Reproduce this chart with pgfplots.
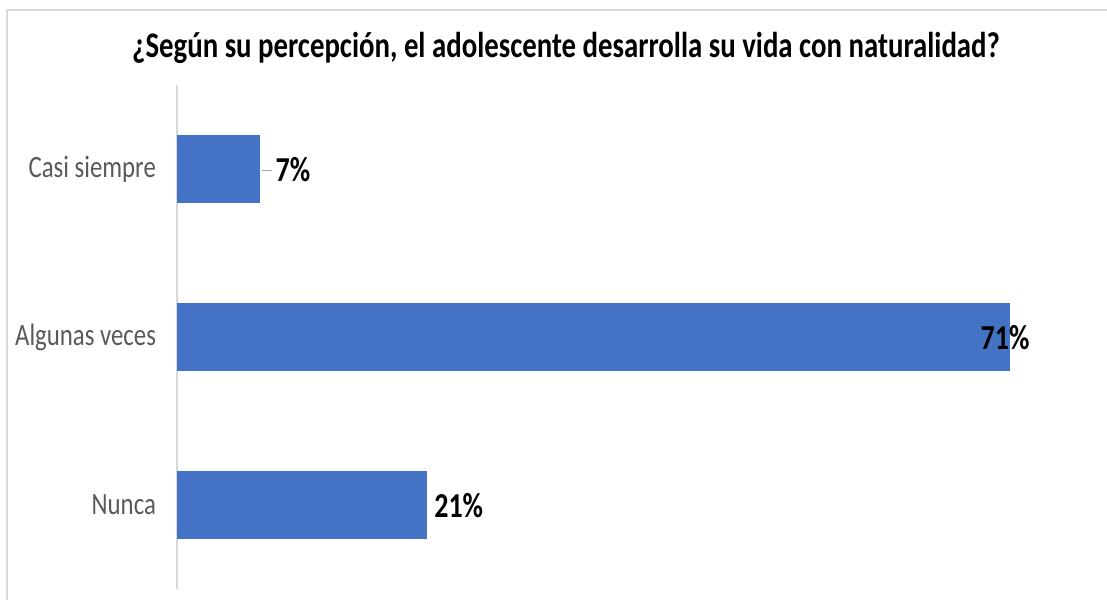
\documentclass[border=0pt]{standalone}
\usepackage{fontspec}
\setmainfont[FakeStretch=0.8]{Carlito}
\usepackage{pgfplots}
\pgfplotsset{compat=1.18}
\definecolor{barblue}{HTML}{4472C4}
\definecolor{lbl}{HTML}{595959}
\definecolor{gridg}{HTML}{D9D9D9}
\definecolor{leader}{HTML}{A6A6A6}

\begin{document}
\begin{tikzpicture}
\begin{axis}[
  name=ax, anchor=south west, at={(88.5pt,-294.5pt)},
  scale only axis, width=466.5pt, height=252pt,
  xbar, bar width=34pt, bar shift=0pt,
  xmin=0, xmax=80, ymin=-0.5, ymax=2.5,
  axis x line=none, axis y line=left,
  y axis line style={-, draw=gridg, line width=1pt},
  ytick={0,1,2}, yticklabels={Nunca, Algunas veces, Casi siempre},
  major tick length=0pt,
  yticklabel style={font=\fontsize{15.5}{18}\selectfont, text=lbl, xshift=-7pt},
  every node near coord/.append style={font=\bfseries\fontsize{17.5}{20}\selectfont, text=black},
  clip=false,
]
% Nunca
\addplot[fill=barblue, draw=none,
  nodes near coords={21\%},
  every node near coord/.append style={anchor=west, inner sep=0pt, xshift=3.5pt, yshift=-0.5pt}]
  coordinates {(21.43,0)};
% Algunas veces
\addplot[fill=barblue, draw=none,
  nodes near coords={71\%},
  every node near coord/.append style={anchor=center, inner sep=0pt, xshift=-2.5pt, yshift=-0.5pt}]
  coordinates {(71.43,1)};
% Casi siempre
\addplot[fill=barblue, draw=none,
  nodes near coords={\textcolor{leader}{\rule[0.3em]{5pt}{0.5pt}}\hspace{2pt}7\%},
  every node near coord/.append style={anchor=west, inner sep=0pt, xshift=0.5pt, yshift=-0.5pt}]
  coordinates {(7.14,2)};
\end{axis}
\pgfresetboundingbox
\useasboundingbox (0,0) rectangle (553.5pt,-299.5pt);
\draw[gridg, line width=1pt] (3.5pt,-310pt) |- (560pt,-5pt);
\node[font=\bfseries\fontsize{18}{21}\selectfont] at (283pt,-24pt)
  {¿Según su percepción, el adolescente desarrolla su vida con naturalidad?};
\end{tikzpicture}
\end{document}
